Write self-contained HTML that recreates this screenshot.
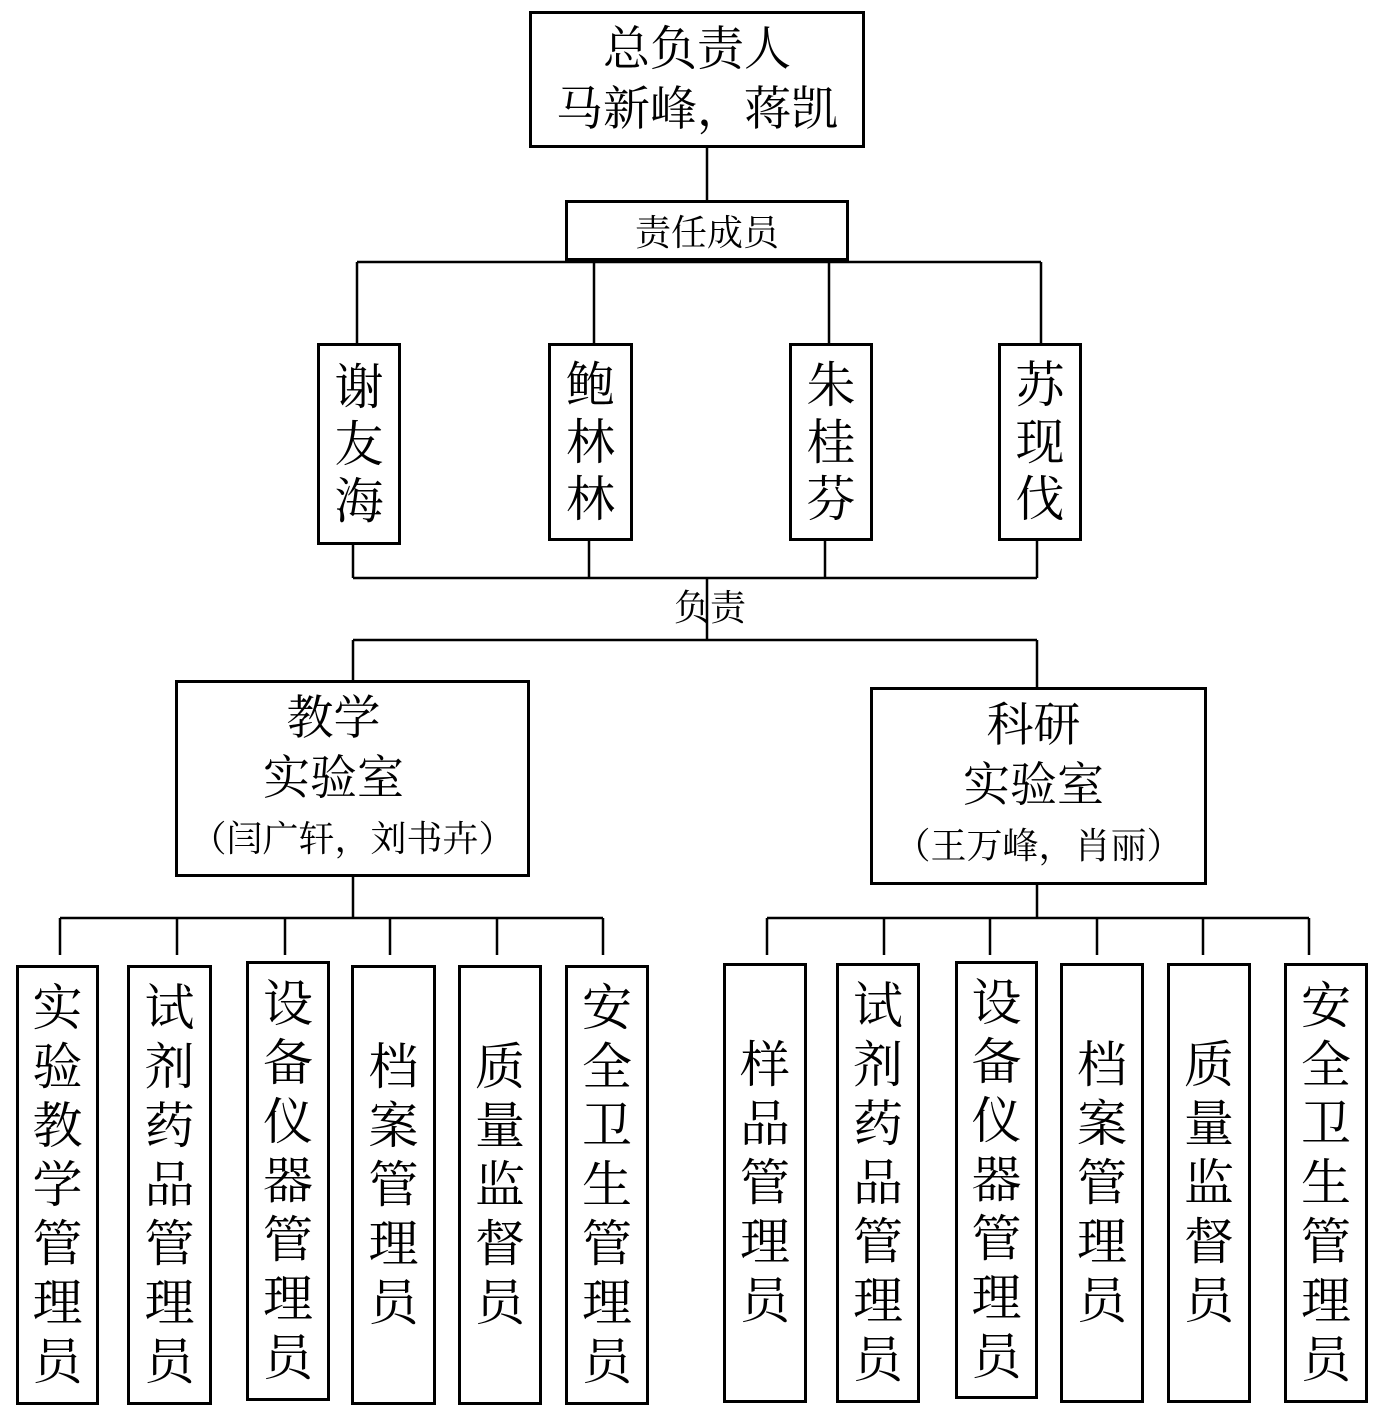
<!DOCTYPE html>
<html><head><meta charset="utf-8"><style>
body{margin:0;background:#fff;width:1381px;height:1420px;position:relative;overflow:hidden;font-family:"Liberation Serif","Noto Serif CJK SC",serif;color:#000}
.b{position:absolute;border:3px solid #000;box-sizing:border-box;display:flex;flex-direction:column;align-items:center;justify-content:center;text-align:center}
.v{font-size:49px;line-height:57px;width:1em;word-break:break-all}
.w{font-size:50px;line-height:59px;width:1em;word-break:break-all}
svg{position:absolute;left:0;top:0}
</style></head><body>
<svg width="1381" height="1420" stroke="#000" stroke-width="2.5" fill="none">
<path d="M707 147V200M357 262H1041M357 262V343M594 262V343M829 262V343M1041 262V343"/>
<path d="M353 544V578M589 540V578M825 540V578M1037 540V578M353 578H1037M707 578V640M353 640H1037M353 640V680M1037 640V687"/>
<path d="M353 876V918M60 918H603M60 918V955M177 918V955M285 918V955M390 918V955M497 918V955M603 918V955"/>
<path d="M1037 884V918M767 918H1309M767 918V955M884 918V955M990 918V955M1097 918V955M1203 918V955M1309 918V955"/>
</svg>
<div class="b" style="left:529px;top:11px;width:336px;height:137px;font-size:47px;line-height:60px">总负责人<br>马新峰，蒋凯</div>
<div class="b" style="left:565px;top:200px;width:284px;height:61px;font-size:36px">责任成员</div>
<div class="b" style="left:317px;top:343px;width:84px;height:202px"><div class="v">谢友海</div></div>
<div class="b" style="left:548px;top:343px;width:85px;height:198px"><div class="v">鲍林林</div></div>
<div class="b" style="left:789px;top:343px;width:84px;height:198px"><div class="v">朱桂芬</div></div>
<div class="b" style="left:998px;top:343px;width:84px;height:198px"><div class="v">苏现伐</div></div>
<div style="position:absolute;left:674px;top:588px;font-size:36px;line-height:40px">负责</div>
<div class="b" style="left:175px;top:680px;width:355px;height:197px;font-size:47px;line-height:60px"><span style="margin-right:38px">教学<br>实验室</span><span style="font-size:36px;line-height:60px">（闫广轩，刘书卉）</span></div>
<div class="b" style="left:870px;top:687px;width:337px;height:198px;font-size:47px;line-height:60px"><span style="margin-right:10px">科研<br>实验室</span><span style="font-size:36px;line-height:60px">（王万峰，肖丽）</span></div>
<div class="b" style="left:16px;top:965px;width:83px;height:440px"><div class="w">实验教学管理员</div></div>
<div class="b" style="left:127px;top:965px;width:85px;height:440px"><div class="w">试剂药品管理员</div></div>
<div class="b" style="left:246px;top:961px;width:84px;height:440px"><div class="w">设备仪器管理员</div></div>
<div class="b" style="left:351px;top:965px;width:85px;height:440px"><div class="w">档案管理员</div></div>
<div class="b" style="left:458px;top:965px;width:84px;height:440px"><div class="w">质量监督员</div></div>
<div class="b" style="left:565px;top:965px;width:84px;height:440px"><div class="w">安全卫生管理员</div></div>
<div class="b" style="left:723px;top:963px;width:84px;height:440px"><div class="w">样品管理员</div></div>
<div class="b" style="left:836px;top:963px;width:84px;height:440px"><div class="w">试剂药品管理员</div></div>
<div class="b" style="left:955px;top:961px;width:83px;height:438px"><div class="w">设备仪器管理员</div></div>
<div class="b" style="left:1060px;top:963px;width:84px;height:440px"><div class="w">档案管理员</div></div>
<div class="b" style="left:1167px;top:963px;width:84px;height:440px"><div class="w">质量监督员</div></div>
<div class="b" style="left:1284px;top:963px;width:84px;height:440px"><div class="w">安全卫生管理员</div></div>
</body></html>
